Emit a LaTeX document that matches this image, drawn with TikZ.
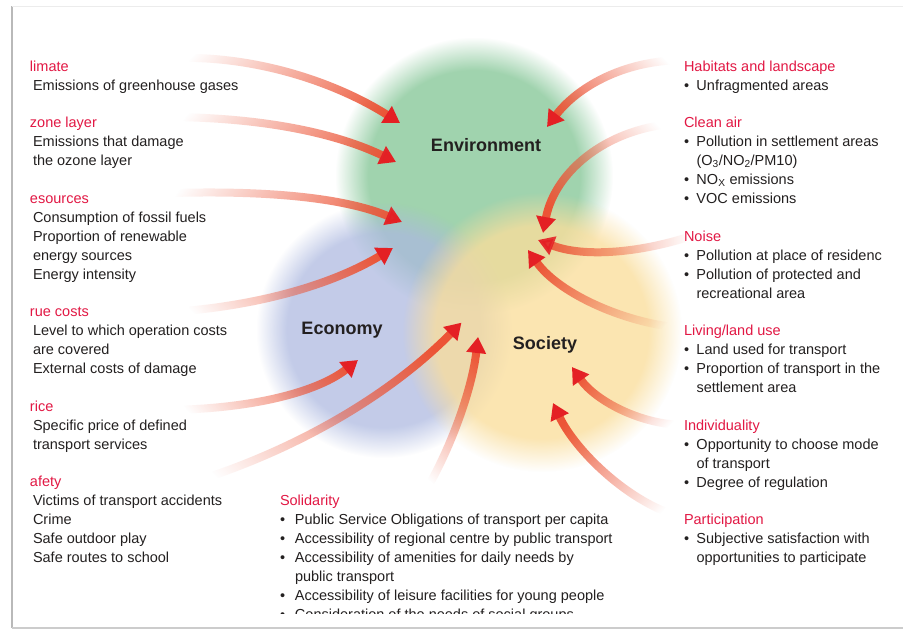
\documentclass[tikz,border=0pt]{standalone}
\usepackage{fontspec}
\setmainfont{Liberation Sans}
\usetikzlibrary{arrows.meta, fadings}

\definecolor{envgreen}{RGB}{160,211,174}
\definecolor{ecoblue}{RGB}{172,184,224}
\definecolor{socyellow}{RGB}{250,222,156}
\definecolor{headred}{RGB}{226,24,68}
\definecolor{pullred}{RGB}{236,84,54}
\definecolor{tipred}{RGB}{228,32,36}
\definecolor{inkgrey}{RGB}{35,32,32}

\tikzfading[name=pullfade, left color=transparent!100, middle color=transparent!25, right color=transparent!0]
% softer edge than the library circles
\pgfdeclareradialshading{blobshade}{\pgfpointorigin}{color(0pt)=(pgftransparent!0); color(19pt)=(pgftransparent!0); color(25pt)=(pgftransparent!100); color(50pt)=(pgftransparent!100)}
\pgfdeclarefading{softblob}{\pgfuseshading{blobshade}}

\newcommand{\bul}[1][12.5pt]{\makebox[#1][l]{\textbullet}}
\newcommand{\ind}[1][12.5pt]{\hspace*{#1}}
\newcommand{\lft}{\hspace*{3pt}}
% heading line, with a fixed strut so that the node top sits 12pt over its baseline
\newcommand{\hd}[1]{\rule{0pt}{12pt}\textcolor{headred}{#1}}

\tikzset{
  block/.style={anchor=north west, inner sep=0pt, outer sep=0pt, align=left, text=inkgrey, font=\fontsize{14.5}{19}\selectfont},
  pillar/.style={anchor=center, inner sep=0pt, font=\fontsize{18}{20}\selectfont\bfseries, text=inkgrey},
  blob/.style={fill=#1, path fading=softblob},
  pull/.style={line width=8pt, draw=pullred, -{Triangle[width=19pt,length=16pt,color=tipred]}, path fading=pullfade, fading angle=#1},
}

\begin{document}
\begin{tikzpicture}[x=1pt,y=-1pt]
\path[use as bounding box,fill=white] (0,0) rectangle (903,630);

% frame
\draw[gray!55, line width=1.5pt] (12,6) -- (12,628);
\draw[gray!15, line width=1pt] (12,6) -- (903,6);
\draw[gray!40, line width=2pt] (12,628) -- (903,628);

\begin{scope}
\clip (13,7) rectangle (903,613);

% the three pillars
\fill[blob=envgreen] (474,176) circle[radius=139];
\fill[blob=ecoblue, opacity=0.72] (384,330) circle[radius=128];
\fill[blob=socyellow, opacity=0.78] (542,332) circle[radius=140];

\node[pillar] (env) at (486,145) {Environment};
\node[pillar] (eco) at (342,330) {Economy};
\node[pillar] (soc) at (545,345) {Society};

% left column (top = heading baseline - 12)
\node[block] (climate) at (30,59) {\hd{limate}\\ \lft Emissions of greenhouse gases};
\node[block] (ozone) at (30,115) {\hd{zone layer}\\ \lft Emissions that damage\\ \lft the ozone layer};
\node[block] (resources) at (30,191) {\hd{esources}\\ \lft Consumption of fossil fuels\\ \lft Proportion of renewable\\ \lft energy sources\\ \lft Energy intensity};
\node[block] (truecosts) at (30,304) {\hd{rue costs}\\ \lft Level to which operation costs\\ \lft are covered\\ \lft External costs of damage};
\node[block] (price) at (30,399) {\hd{rice}\\ \lft Specific price of defined\\ \lft transport services};
\node[block] (safety) at (30,474) {\hd{afety}\\ \lft Victims of transport accidents\\ \lft Crime\\ \lft Safe outdoor play\\ \lft Safe routes to school};

% right column
\node[block] (habitats) at (684,59) {\hd{Habitats and landscape}\\ \bul Unfragmented areas};
\node[block] (cleanair) at (684,115) {\hd{Clean air}\\ \bul Pollution in settlement areas\\ \ind(O\textsubscript{3}/NO\textsubscript{2}/PM10)\\ \bul NO\textsubscript{X} emissions\\ \bul VOC emissions};
\node[block] (noise) at (684,229) {\hd{Noise}\\ \bul Pollution at place of residenc\\ \bul Pollution of protected and\\ \ind recreational area};
\node[block] (living) at (684,323) {\hd{Living/land use}\\ \bul Land used for transport\\ \bul Proportion of transport in the\\ \ind settlement area};
\node[block] (individuality) at (684,418) {\hd{Individuality}\\ \bul Opportunity to choose mode\\ \ind of transport\\ \bul Degree of regulation};
\node[block] (participation) at (684,512) {\hd{Participation}\\ \bul Subjective satisfaction with\\ \ind opportunities to participate};

% bottom
\node[block] (solidarity) at (280,493) {\hd{Solidarity}\\ \bul[15pt]Public Service Obligations of transport per capita\\ \bul[15pt]Accessibility of regional centre by public transport\\ \bul[15pt]Accessibility of amenities for daily needs by\\ \ind[15pt]public transport\\ \bul[15pt]Accessibility of leisure facilities for young people\\ \bul[15pt]Consideration of the needs of social groups};

% arrow ends
\coordinate (climate-tail) at (172,58);
\coordinate (climate-tip) at (400,123);
\coordinate (ozone-tail) at (172,117);
\coordinate (ozone-tip) at (396,162);
\coordinate (resources-tail) at (172,193);
\coordinate (resources-tip) at (402,222);
\coordinate (truecosts-tail) at (172,312);
\coordinate (truecosts-tip) at (393,248);
\coordinate (price-tail) at (172,410);
\coordinate (price-tip) at (358,360);
\coordinate (safety-tail) at (172,488);
\coordinate (safety-tip) at (462,322);
\coordinate (solidarity-tail) at (425,492);
\coordinate (solidarity-tip) at (478,337);
\coordinate (habitats-tail) at (685,60);
\coordinate (habitats-tip) at (547,127);
\coordinate (cleanair-tail) at (685,123);
\coordinate (cleanair-tip) at (543,233);
\coordinate (noise-tail) at (685,238);
\coordinate (noise-tip) at (538,240);
\coordinate (living-tail) at (685,328);
\coordinate (living-tip) at (528,250);
\coordinate (individuality-tail) at (685,425);
\coordinate (individuality-tip) at (572,367);
\coordinate (participation-tail) at (685,518);
\coordinate (participation-tip) at (553,403);

% arrows
\draw[pull=-16] (climate-tail) .. controls (260,55) and (340,85) .. (climate-tip);
\draw[pull=-11] (ozone-tail) .. controls (270,118) and (340,135) .. (ozone-tip);
\draw[pull=-7] (resources-tail) .. controls (280,190) and (350,200) .. (resources-tip);
\draw[pull=16] (truecosts-tail) .. controls (270,305) and (340,280) .. (truecosts-tip);
\draw[pull=15] (price-tail) .. controls (260,408) and (320,390) .. (price-tip);
\draw[pull=30] (safety-tail) .. controls (290,455) and (390,395) .. (safety-tip);
\draw[pull=71] (solidarity-tail) .. controls (450,450) and (472,390) .. (solidarity-tip);
\draw[pull=-154] (habitats-tail) .. controls (620,60) and (575,90) .. (habitats-tip);
\draw[pull=-143] (cleanair-tail) .. controls (610,125) and (555,170) .. (cleanair-tip);
\draw[pull=180] (noise-tail) .. controls (640,252) and (585,258) .. (noise-tip);
\draw[pull=154] (living-tail) .. controls (630,325) and (560,295) .. (living-tip);
\draw[pull=153] (individuality-tail) .. controls (640,425) and (595,400) .. (individuality-tip);
\draw[pull=139] (participation-tail) .. controls (630,505) and (575,450) .. (participation-tip);
\end{scope}
\end{tikzpicture}
\end{document}
